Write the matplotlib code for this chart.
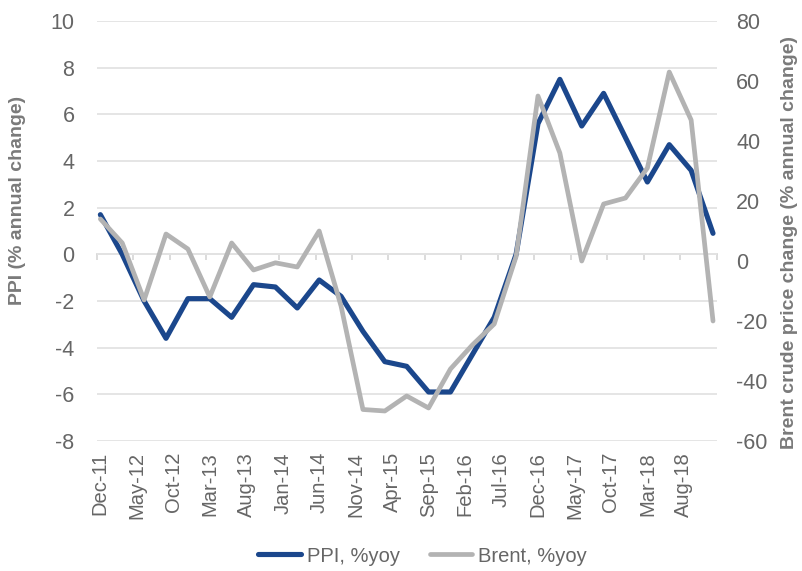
import matplotlib
matplotlib.use('Agg')
import matplotlib.pyplot as plt
import numpy as np

# quarterly observations, Dec-11 .. Dec-18, x in months from Dec-11
months = np.arange(0, 85, 3)
ppi = [1.7, 0.0, -2.0, -3.6, -1.9, -1.9, -2.7, -1.3, -1.4, -2.3, -1.1, -1.8,
       -3.3, -4.6, -4.8, -5.9, -5.9, -4.3, -2.7, 0.0, 5.6, 7.5, 5.5, 6.9,
       5.0, 3.1, 4.7, 3.6, 0.9]
brent = [14, 6, -13, 9, 4, -12, 6, -3, -0.6, -2, 10, -15,
         -49.5, -50, -45, -49, -36, -28, -21, 1.5, 55, 36, 0, 19,
         21, 31, 63, 47, -20]

tick_months = np.arange(0, 81, 5)
tick_labels = ['Dec-11', 'May-12', 'Oct-12', 'Mar-13', 'Aug-13', 'Jan-14',
               'Jun-14', 'Nov-14', 'Apr-15', 'Sep-15', 'Feb-16', 'Jul-16',
               'Dec-16', 'May-17', 'Oct-17', 'Mar-18', 'Aug-18']

blue = '#1b478c'
grey = '#b3b3b3'
grid_col = '#e3e3e3'
txt_col = '#666666'
title_col = '#7a7a7a'

plt.rcParams['font.family'] = ['Liberation Sans', 'DejaVu Sans']
plt.rcParams['axes.unicode_minus'] = False

fig = plt.figure(figsize=(8.02, 5.71), dpi=100)
ax = fig.add_axes([0.1206, 0.2277, 0.773, 0.7355])
ax2 = ax.twinx()

l1, = ax.plot(months, ppi, color=blue, lw=3.7, solid_capstyle='round',
              solid_joinstyle='round', label='PPI, %yoy')
l2, = ax2.plot(months, brent, color=grey, lw=3.4, solid_capstyle='round',
               solid_joinstyle='round', label='Brent, %yoy')

ax.set_xlim(-0.5, 84.5)
ax.set_ylim(-8, 10)
ax2.set_ylim(-60, 80)
ax.set_yticks(np.arange(-8, 11, 2))
ax2.set_yticks(np.arange(-60, 81, 20))
ax.grid(axis='y', color=grid_col, lw=1.3)
ax.set_axisbelow(True)

for a in (ax, ax2):
    for s in a.spines.values():
        s.set_visible(False)

ax.set_xticks(tick_months)
ax.set_xticklabels(tick_labels, rotation=90)
ax.tick_params(axis='x', length=0, pad=8, labelsize=14.5, labelcolor=txt_col)
ax.tick_params(axis='y', length=0, pad=16, labelsize=15.5, labelcolor=txt_col)
ax2.tick_params(axis='y', length=0, pad=14, labelsize=15.5, labelcolor=txt_col)

# category axis line with tick marks, sitting on the zero level
zero_pos = (0 - ax.get_ylim()[0]) / (ax.get_ylim()[1] - ax.get_ylim()[0])
sec = ax.secondary_xaxis(zero_pos)
sec.set_xticks(np.arange(-0.5, 85, 5))
sec.set_xticklabels([])
sec.tick_params(axis='x', length=4, width=1.3, color='#d9d9d9', direction='out')
sec.spines['bottom'].set_color('#d9d9d9')
sec.spines['bottom'].set_linewidth(1.3)
for k in ('top', 'left', 'right'):
    sec.spines[k].set_visible(False)

fig.text(0.022, 1 - 200 / 571, 'PPI (% annual change)', rotation=90,
         ha='center', va='center', fontsize=14, fontweight='bold',
         color=title_col)
fig.text(0.985, 1 - 243 / 571, 'Brent crude price change (% annual change)',
         rotation=90, ha='center', va='center', fontsize=14,
         fontweight='bold', color=title_col)

leg = fig.legend([l1, l2], ['PPI, %yoy', 'Brent, %yoy'], loc='center',
                 bbox_to_anchor=(0.527, 1 - 556 / 571), ncol=2,
                 frameon=False, handlelength=2.1, fontsize=14.5,
                 columnspacing=1.5, handletextpad=0.3)
for t in leg.get_texts():
    t.set_color(txt_col)

fig.savefig('out.png', dpi=100)
